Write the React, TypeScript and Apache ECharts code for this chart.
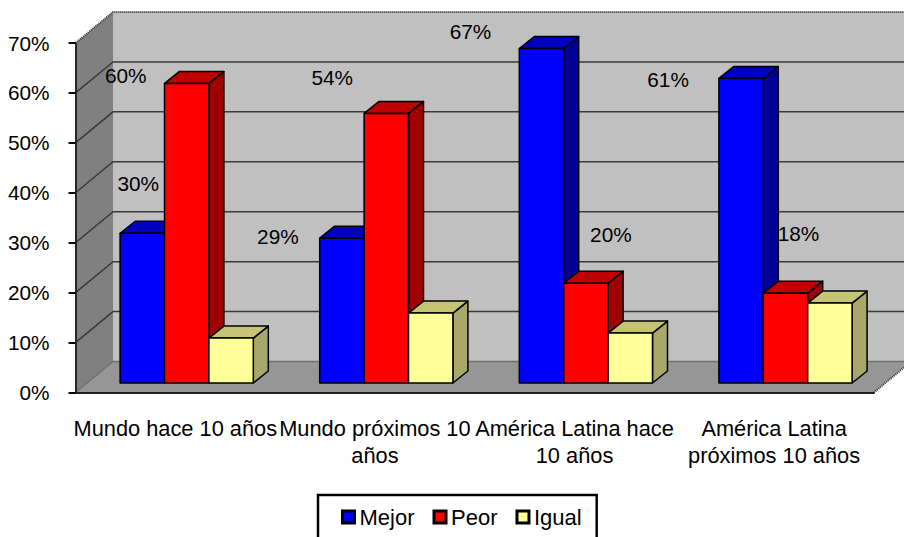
import React, { useEffect, useRef } from "react";
import * as echarts from "echarts";

const categories = [
  "Mundo hace 10 años",
  "Mundo próximos 10\naños",
  "América Latina hace\n10 años",
  "América Latina\npróximos 10 años",
];
const mejor = [30, 29, 67, 61];
const peor = [60, 54, 20, 18];
const igual = [9, 14, 10, 16];
const yTicks = [0, 10, 20, 30, 40, 50, 60, 70];

// Manual placement of the data labels relative to the bar's top-centre (as in the source chart)
const mejorLabelShift = [[-4, -50], [-64, -2], [-71, -17], [-73, 1]];
const peorLabelShift = [[-61, -8], [-54, -36], [25, -49], [13, -60]];

const FONT = "Liberation Sans";
const FS = 20.8;
const FS_AXIS = 21.8;
const FS_LEGEND = 22;
const WALL = { dx: 37.5, dy: 31 };
const BAR = { width: 44.4 / 199.6, dx: 15, dy: 12, inX: 11.4, inY: 9.5 };

function wallsRender(params: any, api: any) {
  const c = params.coordSys;
  const { dx, dy } = WALL;
  const L = c.x, R = c.x + c.width;
  const B = api.coord([0, 0])[1];
  const T = api.coord([0, 70])[1];
  const children: any[] = [
    { type: "polygon", shape: { points: [[L + dx, T - dy], [R + dx, T - dy], [R + dx, B - dy], [L + dx, B - dy]] }, style: { fill: "#C0C0C0" } },
    { type: "polygon", shape: { points: [[L, T], [L + dx, T - dy], [L + dx, B - dy], [L, B]] }, style: { fill: "#808080" } },
    { type: "polygon", shape: { points: [[L, B], [L + dx, B - dy], [R + dx, B - dy], [R, B]] }, style: { fill: "#969696" } },
  ];
  yTicks.forEach((v) => {
    const y = api.coord([0, v])[1];
    if (v < 70) {
      children.push({ type: "polyline", shape: { points: [[L, y], [L + dx, y - dy], [R + dx, y - dy]] }, style: { fill: "none", stroke: v === 0 ? "#707070" : "#3a3a3a", lineWidth: 1.5 } });
    }
  });
  const dotted = { fill: "none", stroke: "#333", lineWidth: 2, lineDash: [1, 1] };
  children.push({ type: "polyline", shape: { points: [[L, T], [L + dx, T - dy], [R + dx, T - dy]] }, style: dotted });
  children.push({ type: "line", shape: { x1: R, y1: B, x2: R + dx, y2: B - dy }, style: dotted });
  return { type: "group", children };
}

function barRender(seriesIndex: number, faces: any, shifts: number[][] | null) {
  return (params: any, api: any) => {
    const idx = api.value(0);
    const val = api.value(1);
    const [cx, top] = api.coord([idx, val]);
    const base = api.coord([idx, 0])[1];
    const w = api.size([1, 0])[0] * BAR.width;
    const x = cx + BAR.inX + (seriesIndex - 1.5) * w;
    const yT = top - BAR.inY, yB = base - BAR.inY;
    const { dx, dy } = BAR;
    const line = { stroke: "#000", lineWidth: 1.5, lineJoin: "round" };
    const children: any[] = [
      { type: "polygon", shape: { points: [[x + w, yT], [x + w + dx, yT - dy], [x + w + dx, yB - dy], [x + w, yB]] }, style: { fill: faces.side, ...line } },
      { type: "polygon", shape: { points: [[x, yT], [x + dx, yT - dy], [x + w + dx, yT - dy], [x + w, yT]] }, style: { fill: faces.top, ...line } },
      { type: "rect", shape: { x, y: yT, width: w, height: yB - yT }, style: { fill: faces.front, ...line } },
    ];
    if (shifts) {
      const s = shifts[params.dataIndex];
      children.push({
        type: "text",
        x: x + w / 2 + s[0],
        y: yT + s[1],
        style: { text: `${val}%`, font: `${FS}px "${FONT}"`, fill: "#000", textAlign: "center", textVerticalAlign: "middle" },
      });
    }
    return { type: "group", children };
  };
}

const toData = (arr: number[]) => arr.map((v, i) => [i, v]);

export default function App() {
  const ref = useRef<HTMLDivElement>(null);
  useEffect(() => {
    const chart = echarts.init(ref.current!, null, { renderer: "svg" });
    const axisText = { fontFamily: FONT, fontSize: FS, color: "#000" };
    const legendItem = (name: string, color: string) => ({
      name,
      icon: "rect",
      itemStyle: { color, borderColor: "#000", borderWidth: 3 },
    });
    chart.setOption({
      animation: false,
      backgroundColor: "#fff",
      grid: { left: 75.5, top: 43, width: 798.4, height: 349.5, containLabel: false },
      legend: {
        left: 318,
        top: 495,
        orient: "horizontal",
        padding: [11, 15, 22, 23],
        itemGap: 18,
        itemWidth: 12,
        itemHeight: 12,
        selectedMode: false,
        borderColor: "#000",
        borderWidth: 2.5,
        textStyle: { ...axisText, fontSize: FS_LEGEND },
        data: [legendItem("Mejor", "#0000FF"), legendItem("Peor", "#FF0000"), legendItem("Igual", "#FFFF99")],
      },
      xAxis: {
        type: "category",
        data: categories,
        z: 5,
        axisLine: { lineStyle: { color: "#222", width: 2, type: [1, 1] } },
        axisTick: { length: 6, lineStyle: { color: "#000", width: 2 } },
        axisLabel: { ...axisText, fontSize: FS_AXIS, interval: 0, margin: 22, lineHeight: 27 },
      },
      yAxis: {
        type: "value",
        min: 0,
        max: 70,
        interval: 10,
        z: 5,
        axisLine: { show: true, lineStyle: { color: "#222", width: 2, type: [1, 1] } },
        axisTick: { show: true, length: 7, lineStyle: { color: "#000", width: 2 } },
        axisLabel: { ...axisText, formatter: "{value}%", margin: 26 },
        splitLine: { show: false },
      },
      series: [
        { type: "custom", name: "walls", z: 1, silent: true, clip: false, renderItem: wallsRender, data: [[0, 0]], encode: { x: 0, y: 1 } },
        { type: "custom", name: "Mejor", z: 2, clip: false, itemStyle: { color: "#0000FF" }, renderItem: barRender(0, { front: "#0000FF", top: "#0000C0", side: "#000099" }, mejorLabelShift), data: toData(mejor), encode: { x: 0, y: 1 } },
        { type: "custom", name: "Peor", z: 2, clip: false, itemStyle: { color: "#FF0000" }, renderItem: barRender(1, { front: "#FF0000", top: "#C00000", side: "#A00000" }, peorLabelShift), data: toData(peor), encode: { x: 0, y: 1 } },
        { type: "custom", name: "Igual", z: 2, clip: false, itemStyle: { color: "#FFFF99" }, renderItem: barRender(2, { front: "#FFFF99", top: "#C4C474", side: "#A8A86C" }, null), data: toData(igual), encode: { x: 0, y: 1 } },
      ],
    });
    return () => chart.dispose();
  }, []);
  return <div ref={ref} style={{ position: "absolute", left: 0, top: 0, width: 904, height: 537, overflow: "hidden" }} />;
}
